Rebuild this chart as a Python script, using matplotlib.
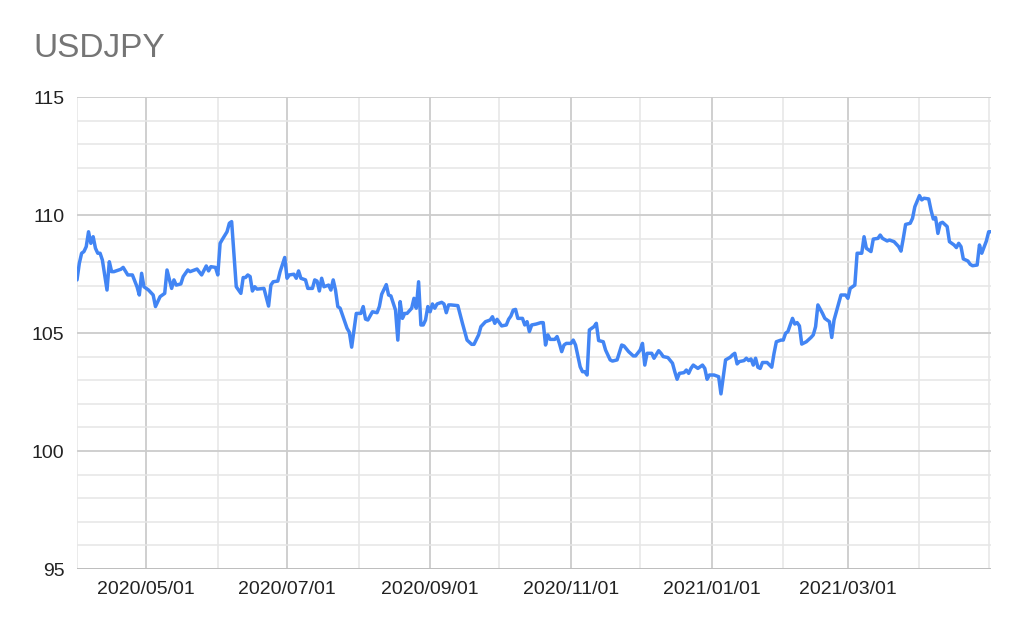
import matplotlib
matplotlib.use("Agg")
import matplotlib.pyplot as plt
import matplotlib.dates as mdates
from matplotlib.ticker import MultipleLocator, FixedLocator
import pandas as pd

plt.rcParams['font.family'] = ['Liberation Sans', 'DejaVu Sans']

title = "USDJPY"
start_date = "2020-04-01"
# days since start_date
day_offsets = [
    0, 1, 2, 3, 4, 5, 6, 7, 8, 9, 10, 11, 13, 14, 15, 16, 18, 19, 20, 22,
    24, 26, 27, 28, 29, 31, 33, 34, 36, 38, 39, 41, 42, 43, 45, 46, 48, 49, 52, 54,
    56, 57, 58, 60, 61, 62, 63, 65, 66, 67, 69, 71, 72, 73, 74, 75, 76, 77, 78, 81,
    83, 84, 85, 87, 88, 90, 91, 92, 94, 95, 96, 97, 99, 100, 102, 103, 104, 105, 106, 107,
    109, 110, 111, 112, 113, 114, 117, 118, 119, 121, 123, 124, 125, 126, 128, 130, 131, 132, 134, 135,
    136, 138, 139, 140, 141, 142, 143, 145, 146, 147, 148, 149, 150, 151, 152, 153, 154, 155, 156, 158,
    159, 160, 161, 162, 165, 167, 169, 171, 172, 174, 175, 177, 179, 180, 181, 182, 183, 184, 186, 187,
    188, 189, 190, 191, 193, 194, 195, 196, 197, 199, 201, 202, 203, 204, 205, 207, 208, 209, 210, 211,
    212, 214, 215, 216, 218, 219, 220, 221, 222, 224, 225, 226, 228, 229, 231, 232, 234, 236, 237, 239,
    241, 242, 244, 245, 246, 247, 249, 250, 252, 253, 254, 256, 258, 259, 260, 261, 263, 264, 265, 266,
    267, 269, 271, 272, 273, 274, 276, 278, 279, 280, 281, 283, 284, 285, 286, 287, 289, 290, 291, 292,
    293, 294, 295, 296, 297, 299, 301, 302, 303, 305, 306, 307, 308, 310, 311, 312, 313, 314, 316, 318,
    319, 320, 321, 323, 324, 326, 327, 328, 330, 331, 333, 334, 335, 336, 337, 338, 340, 341, 342, 344,
    345, 347, 348, 349, 351, 352, 354, 356, 357, 358, 359, 361, 362, 363, 365, 366, 367, 369, 370, 371,
    372, 373, 374, 375, 377, 378, 380, 381, 382, 383, 384, 386, 387, 388, 390, 391, 392, 394, 395, 396,
]
usdjpy = [
    107.25, 107.95, 108.38, 108.45, 108.66, 109.29, 108.80, 109.08, 108.59, 108.38, 108.38, 108.09, 106.82, 108.02, 107.60, 107.60, 107.67, 107.70, 107.78, 107.46,
    107.46, 106.96, 106.61, 107.53, 106.96, 106.82, 106.61, 106.12, 106.54, 106.68, 107.67, 106.89, 107.25, 107.03, 107.08, 107.39, 107.67, 107.60, 107.71, 107.46,
    107.84, 107.63, 107.81, 107.78, 107.46, 108.80, 108.97, 109.29, 109.65, 109.72, 106.96, 106.68, 107.35, 107.35, 107.46, 107.39, 106.78, 106.96, 106.86, 106.89,
    106.14, 107.03, 107.17, 107.20, 107.60, 108.20, 107.32, 107.46, 107.49, 107.32, 107.63, 107.32, 107.25, 106.89, 106.89, 107.25, 107.20, 106.78, 107.32, 106.96,
    107.03, 106.82, 107.25, 106.82, 106.12, 106.05, 105.20, 105.03, 104.40, 105.83, 105.83, 106.12, 105.59, 105.55, 105.90, 105.86, 106.12, 106.64, 107.05, 106.61,
    106.57, 105.97, 104.70, 106.33, 105.62, 105.83, 105.83, 106.05, 106.47, 106.05, 107.17, 105.34, 105.34, 105.55, 106.12, 105.90, 106.23, 106.05, 106.23, 106.30,
    106.23, 105.86, 106.19, 106.19, 106.16, 105.41, 104.70, 104.52, 104.52, 104.92, 105.27, 105.48, 105.55, 105.69, 105.41, 105.58, 105.44, 105.30, 105.34, 105.58,
    105.72, 105.97, 106.00, 105.62, 105.62, 105.34, 105.48, 105.06, 105.34, 105.38, 105.44, 105.44, 104.49, 104.92, 104.73, 104.73, 104.85, 104.56, 104.21, 104.49,
    104.56, 104.56, 104.70, 104.49, 103.57, 103.36, 103.36, 103.22, 105.13, 105.27, 105.41, 104.68, 104.63, 104.28, 103.86, 103.81, 103.86, 104.49, 104.45, 104.21,
    104.03, 104.03, 104.28, 104.56, 103.64, 104.14, 104.14, 103.93, 104.25, 104.14, 104.00, 103.96, 103.72, 103.36, 103.04, 103.29, 103.32, 103.43, 103.29, 103.50,
    103.64, 103.50, 103.64, 103.50, 103.04, 103.22, 103.22, 103.15, 102.42, 103.15, 103.86, 103.97, 104.07, 104.14, 103.69, 103.79, 103.83, 103.93, 103.83, 103.90,
    103.64, 103.93, 103.55, 103.50, 103.75, 103.75, 103.55, 104.14, 104.63, 104.70, 104.70, 104.99, 105.06, 105.62, 105.38, 105.44, 105.30, 104.53, 104.63, 104.81,
    104.92, 105.27, 106.19, 105.83, 105.62, 105.48, 104.81, 105.55, 106.26, 106.61, 106.61, 106.47, 106.89, 106.96, 107.03, 108.38, 108.38, 109.08, 108.59, 108.45,
    108.98, 109.01, 109.15, 109.01, 108.90, 108.94, 108.87, 108.66, 108.47, 109.01, 109.60, 109.65, 109.86, 110.35, 110.82, 110.64, 110.71, 110.68, 110.21, 109.83,
    109.89, 109.22, 109.65, 109.69, 109.51, 108.87, 108.73, 108.62, 108.80, 108.66, 108.14, 108.05, 107.91, 107.85, 107.88, 108.73, 108.38, 108.90, 109.29, 109.29,
]
y_ticks = [95, 100, 105, 110, 115]
x_tick_dates = ["2020-05-01", "2020-07-01", "2020-09-01", "2020-11-01", "2021-01-01", "2021-03-01"]
date_format = "%Y/%m/%d"

dates = pd.to_datetime(day_offsets, unit="D", origin=pd.Timestamp(start_date))
major_x = mdates.date2num(pd.to_datetime(x_tick_dates).to_pydatetime())

fig = plt.figure(figsize=(10.24, 6.33), dpi=100)
ax = fig.add_axes([77/1024, 1-569/633, (991-77)/1024, (569-97)/633])

ax.plot(dates, usdjpy, color="#4285F4", linewidth=2.5, solid_joinstyle="round",
        solid_capstyle="round", zorder=3)

ax.set_xlim(dates[0], dates[-1])
ax.set_ylim(min(y_ticks), max(y_ticks))
ax.set_yticks(y_ticks)
ax.yaxis.set_minor_locator(MultipleLocator(1))
ax.xaxis.set_major_locator(FixedLocator(major_x))
ax.xaxis.set_minor_locator(mdates.MonthLocator())
ax.xaxis.set_major_formatter(mdates.DateFormatter(date_format))

ax.grid(which="major", color="#cccccc", linewidth=1.3, zorder=0)
ax.grid(which="minor", color="#e6e6e6", linewidth=1.1, zorder=0)
ax.set_axisbelow(True)
for s in ax.spines.values():
    s.set_visible(False)
ax.axhline(min(y_ticks), color="#bdbdbd", linewidth=1.3, zorder=1)

ax.tick_params(which="both", length=0)
ax.tick_params(axis="y", labelsize=14, pad=9, labelcolor="#222222")
ax.tick_params(axis="x", labelsize=14, pad=9, labelcolor="#222222")

fig.text(33/1024, 1-57/633, title, fontsize=24, color="#757575", va="baseline", ha="left")

fig.savefig("out.png", dpi=100, facecolor="white")
